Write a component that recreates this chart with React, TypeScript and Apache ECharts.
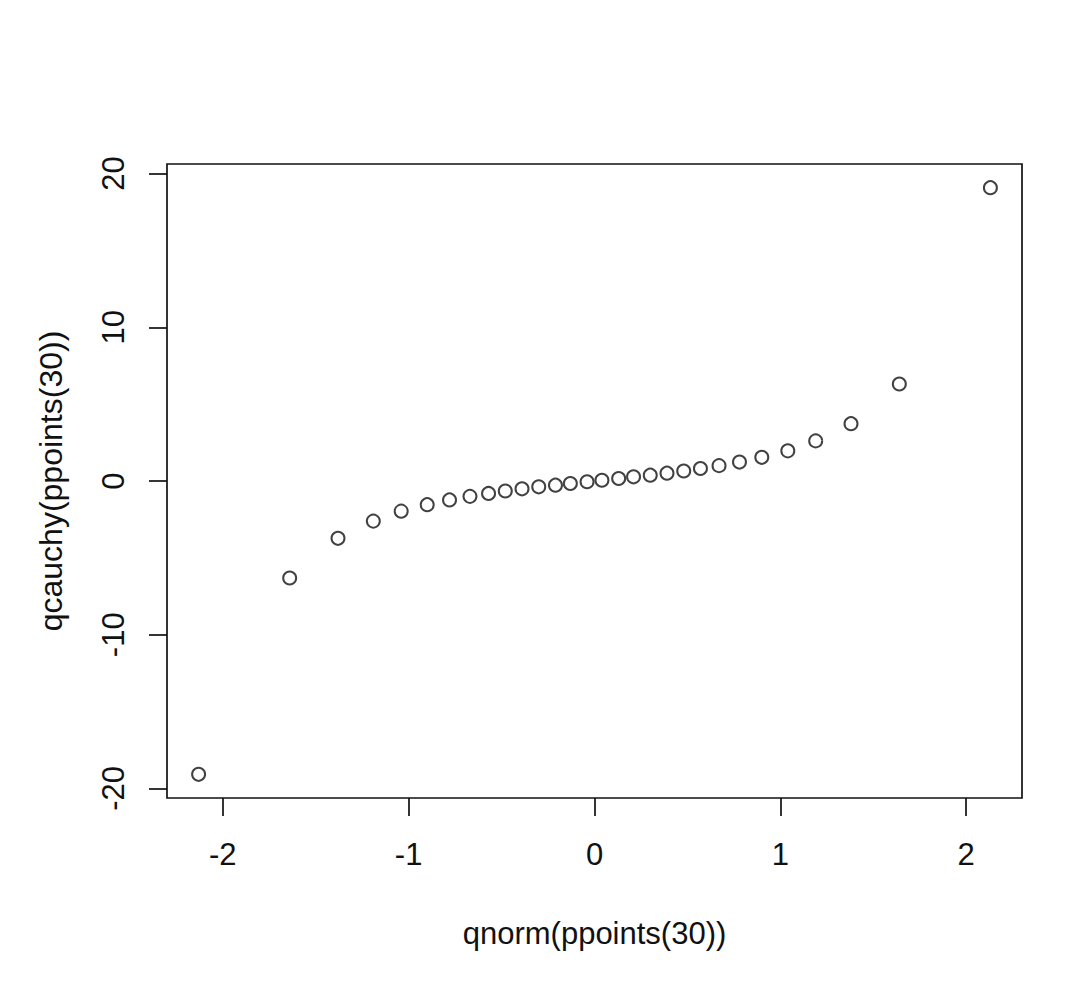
import React, { useEffect, useRef } from "react";
import * as echarts from "echarts";

const xValues = [-2.13, -1.64, -1.38, -1.19, -1.04, -0.9, -0.78, -0.67, -0.57, -0.48, -0.39, -0.3, -0.21, -0.13, -0.04, 0.04, 0.13, 0.21, 0.3, 0.39, 0.48, 0.57, 0.67, 0.78, 0.9, 1.04, 1.19, 1.38, 1.64, 2.13];
const yValues = [-19.08, -6.31, -3.73, -2.61, -1.96, -1.54, -1.23, -1.0, -0.81, -0.65, -0.51, -0.38, -0.27, -0.16, -0.05, 0.05, 0.16, 0.27, 0.38, 0.51, 0.65, 0.81, 1.0, 1.23, 1.54, 1.96, 2.61, 3.73, 6.31, 19.08];
const xTicks = [-2, -1, 0, 1, 2];
const yTicks = [-20, -10, 0, 10, 20];
const xTitle = "qnorm(ppoints(30))";
const yTitle = "qcauchy(ppoints(30))";

const FONT = "'Liberation Sans', Arial, sans-serif";
const TEXT_COLOR = "#111";

export default function App() {
  const ref = useRef<HTMLDivElement>(null);
  useEffect(() => {
    document.body.style.margin = "0";
    const chart = echarts.init(ref.current!, null, { renderer: "svg" });
    const points = xValues.map((x, i) => [x, yValues[i]]);
    chart.setOption({
      animation: false,
      backgroundColor: "#fff",
      grid: {
        left: 167,
        right: 62,
        top: 164,
        bottom: 188,
        show: true,
        borderColor: "#111",
        borderWidth: 1.7,
        backgroundColor: "transparent",
      },
      xAxis: {
        type: "value",
        min: -2.3,
        max: 2.3,
        name: xTitle,
        nameLocation: "middle",
        nameGap: 120,
        nameTextStyle: { fontFamily: FONT, fontSize: 31, color: TEXT_COLOR },
        axisLine: { show: false, onZero: false },
        splitLine: { show: false },
        axisTick: {
          show: true,
          length: 18,
          customValues: xTicks,
          lineStyle: { color: "#111", width: 1.7 },
        },
        axisLabel: {
          show: true,
          customValues: xTicks,
          margin: 41,
          fontFamily: FONT,
          fontSize: 31,
          color: TEXT_COLOR,
        },
      },
      yAxis: {
        type: "value",
        min: -20.62,
        max: 20.62,
        name: yTitle,
        nameLocation: "middle",
        nameGap: 100,
        nameRotate: 90,
        nameTextStyle: { fontFamily: FONT, fontSize: 32, color: TEXT_COLOR },
        axisLine: { show: false, onZero: false },
        splitLine: { show: false },
        axisTick: {
          show: true,
          length: 18,
          customValues: yTicks,
          lineStyle: { color: "#111", width: 1.7 },
        },
        axisLabel: {
          show: true,
          customValues: yTicks,
          rotate: 90,
          margin: 38,
          fontFamily: FONT,
          fontSize: 31,
          color: TEXT_COLOR,
        },
      },
      series: [
        {
          type: "scatter",
          data: points,
          symbol: "circle",
          symbolSize: 13,
          itemStyle: {
            color: "transparent",
            borderColor: "#111",
            borderWidth: 2,
          },
        },
      ],
    });
    return () => chart.dispose();
  }, []);
  return <div ref={ref} style={{ width: 1084, height: 986 }} />;
}
